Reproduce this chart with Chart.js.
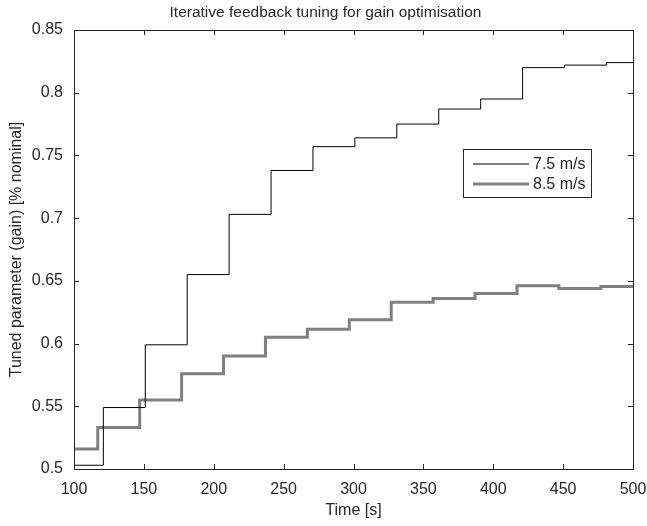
<!DOCTYPE html>
<html>
<head>
<meta charset="utf-8">
<script src="https://cdn.jsdelivr.net/npm/chart.js@4"></script>
<style>
  html, body { margin: 0; padding: 0; background: #fff; }
  #wrap { width: 647px; height: 526px; }
</style>
</head>
<body>
<div id="wrap"><canvas id="tuneChart" width="647" height="526"></canvas></div>
<script>
// step times and tuned gain values (stairs: value holds from its time onward)
const timeSlow = [100, 121, 151, 181, 211, 241, 271, 301, 331, 361, 391, 421, 451, 481, 500];
const gainSlow = [0.503, 0.549, 0.599, 0.655, 0.703, 0.738, 0.757, 0.764, 0.775, 0.787, 0.795, 0.820, 0.822, 0.824, 0.824];
const timeFast = [100, 117, 147, 177, 207, 237, 267, 297, 327, 357, 387, 417, 447, 477, 500];
const gainFast = [0.516, 0.533, 0.555, 0.576, 0.590, 0.605, 0.6115, 0.619, 0.633, 0.636, 0.640, 0.646, 0.644, 0.6455, 0.6455];
const seriesNames = ['7.5 m/s', '8.5 m/s'];
const xTicks = [100, 150, 200, 250, 300, 350, 400, 450, 500];
const yTicks = [0.5, 0.55, 0.6, 0.65, 0.7, 0.75, 0.8, 0.85];
const chartTitle = 'Iterative feedback tuning for gain optimisation';

const axisColor = '#262626';
const fontFamily = '"Liberation Sans", Arial, Helvetica, sans-serif';

const toPoints = (xs, ys) => xs.map((x, i) => ({ x: x, y: ys[i] }));

// box around the axes with inward tick marks, like MATLAB
const boxPlugin = {
    id: 'matlabBox',
    afterDatasetsDraw(chart) {
        const { ctx, chartArea: a, scales } = chart;
        const len = 5;
        ctx.save();
        ctx.strokeStyle = axisColor;
        ctx.lineWidth = 1;
        ctx.beginPath();
        xTicks.forEach(v => {
            const px = Math.round(scales.x.getPixelForValue(v)) + 0.5;
            ctx.moveTo(px, a.bottom); ctx.lineTo(px, a.bottom - len);
            ctx.moveTo(px, a.top); ctx.lineTo(px, a.top + len);
        });
        yTicks.forEach(v => {
            const py = Math.round(scales.y.getPixelForValue(v)) + 0.5;
            ctx.moveTo(a.left, py); ctx.lineTo(a.left + len, py);
            ctx.moveTo(a.right, py); ctx.lineTo(a.right - len, py);
        });
        ctx.stroke();
        ctx.strokeRect(Math.round(a.left) + 0.5, Math.round(a.top) + 0.5,
            Math.round(a.right - a.left), Math.round(a.bottom - a.top));
        ctx.restore();
    }
};

// title centred on the figure, and legend drawn inside the axes
const legendPlugin = {
    id: 'insideLegend',
    afterDraw(chart) {
        const { ctx, chartArea: a } = chart;
        ctx.save();
        ctx.fillStyle = axisColor;
        ctx.font = '15.5px ' + fontFamily;
        ctx.textAlign = 'center';
        ctx.textBaseline = 'middle';
        ctx.fillText(chartTitle, chart.width / 2 + 2, 13);

        const bx = a.right - 170, by = a.top + 119, bw = 128, bh = 48;
        ctx.textAlign = 'left';
        ctx.fillStyle = '#fff';
        ctx.fillRect(bx, by, bw, bh);
        ctx.strokeStyle = axisColor;
        ctx.lineWidth = 1;
        ctx.strokeRect(bx + 0.5, by + 0.5, bw, bh);
        ctx.font = '16px ' + fontFamily;
        chart.data.datasets.forEach((ds, i) => {
            const cy = by + 15 + i * 20;
            ctx.strokeStyle = ds.borderColor;
            ctx.lineWidth = ds.borderWidth;
            ctx.beginPath();
            ctx.moveTo(bx + 10, cy);
            ctx.lineTo(bx + 66, cy);
            ctx.stroke();
            ctx.fillStyle = axisColor;
            ctx.fillText(ds.label, bx + 70, cy + 1);
        });
        ctx.restore();
    }
};

const ctx = document.getElementById('tuneChart').getContext('2d');

new Chart(ctx, {
    type: 'line',
    data: {
        datasets: [{
            label: seriesNames[0],
            data: toPoints(timeSlow, gainSlow),
            borderColor: '#000000',
            borderWidth: 1,
            stepped: 'before',
            pointRadius: 0,
            fill: false
        }, {
            label: seriesNames[1],
            data: toPoints(timeFast, gainFast),
            borderColor: '#808080',
            borderWidth: 3,
            stepped: 'before',
            pointRadius: 0,
            fill: false
        }]
    },
    options: {
        responsive: false,
        animation: false,
        layout: { padding: { left: 0, right: 14, top: 30, bottom: 0 } },
        plugins: {
            legend: { display: false },
            tooltip: { enabled: false },
            title: { display: false }
        },
        scales: {
            x: {
                type: 'linear',
                min: 100,
                max: 500,
                afterBuildTicks: s => { s.ticks = xTicks.map(v => ({ value: v })); },
                afterFit: s => { s.height = 57; s.paddingLeft = 0; s.paddingRight = 0; },
                grid: { display: false, drawTicks: false },
                border: { display: false },
                ticks: {
                    color: axisColor,
                    padding: 11,
                    maxRotation: 0,
                    font: { family: fontFamily, size: 16 }
                },
                title: {
                    display: true,
                    text: 'Time [s]',
                    color: axisColor,
                    font: { family: fontFamily, size: 16 },
                    padding: { top: 0, bottom: 6 }
                }
            },
            y: {
                min: 0.5,
                max: 0.85,
                afterBuildTicks: s => { s.ticks = yTicks.map(v => ({ value: v })); },
                afterFit: s => { s.width = 74; s.paddingTop = 0; s.paddingBottom = 0; },
                grid: { display: false, drawTicks: false },
                border: { display: false },
                ticks: {
                    color: axisColor,
                    padding: 11,
                    font: { family: fontFamily, size: 16 },
                    callback: v => String(+v.toFixed(2))
                },
                title: {
                    display: true,
                    text: 'Tuned parameter (gain) [% nominal]',
                    color: axisColor,
                    font: { family: fontFamily, size: 16 },
                    padding: { top: 7, bottom: 0 }
                }
            }
        }
    },
    plugins: [boxPlugin, legendPlugin]
});
</script>
</body>
</html>
